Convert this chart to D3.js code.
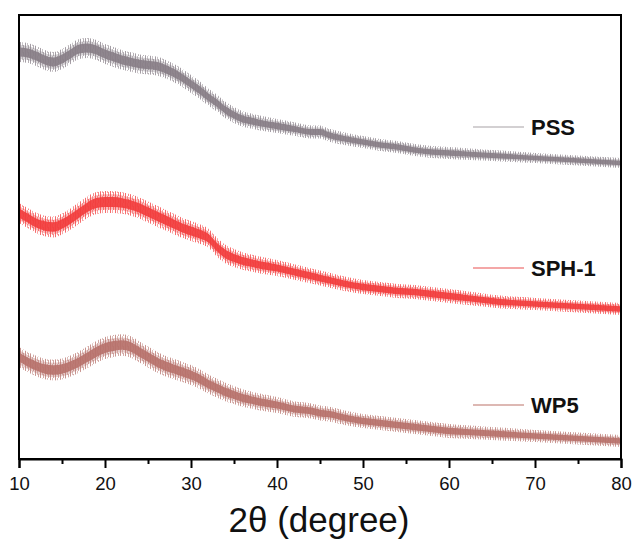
<!DOCTYPE html>
<html><head><meta charset="utf-8">
<script src="https://cdn.jsdelivr.net/npm/d3@7"></script>
<style>body{margin:0;background:#fff}svg{display:block}</style>
</head><body>
<script>
// 2θ sample positions (degree)
const twoTheta = [10,11,12,13,14,15,16,17,18,19,20,21,22,23,24,25,26,27,28,29,30,31,32,33,34,35,36,37,38,40,42,44,45,46,48,50,52,54,56,58,60,62,64,66,68,70,72,74,76,78,80];
// Intensities (a.u., stacked with offsets as in the figure)
const pss  = [407,406,403,399,397,400,405,410,411,409,405,402,399,397,395,394,393,390,386,381,375,369,362,356,349,344,340,338,336,333,330,327,327,324,320,317,314,312,309,307,306,305,304,303,302,301,300,299,298,297,296];
const sph1 = [246,241,236,233,232,235,240,246,252,256,257,257,256,254,251,247,243,239,235,231,228,225,221,212,205,201,198,196,194,191,187,183,181,179,175,172,170,168,167,165,163,161,159,157,156,155,154,153,152,151,150];
const wp5  = [102,97,93,90,89,90,93,97,102,107,111,113,114,112,107,102,97,93,90,87,84,80,75,71,67,64,61,59,57,54,50,48,46,45,41,38,36,34,32,30,28,27,26,25,24,23,22,21,20,19,18];
// noise band half-width (a.u.) at these 2θ
const noiseAt = [10,20,30,40,50,60,70,80];
const pssNoise  = [10,10,9,7,6,6,5,5];
const sph1Noise = [10,11,10,8,7,7,6,6];
const wp5Noise  = [10,11,10,8,7,7,6,6];
const seriesNames = ["PSS","SPH-1","WP5"];
const seriesColors = ["#877d86","#f23c3c","#b7716a"];
const legendColors = ["#c4c0c3","#f08a8a","#d2a09a"];
const xTicks = [10,20,30,40,50,60,70,80];
const xMinor = [15,25,35,45,55,65,75];

const W=636,H=541;
const m={l:19,r:621,t:15,b:459};
const svg=d3.select("body").append("svg").attr("width",W).attr("height",H);
const x=d3.scaleLinear().domain([10,80]).range([m.l,m.r]);
const y=d3.scaleLinear().domain([0,444]).range([m.b,m.t]);

const allSeries=[pss,sph1,wp5];
const allNoise=[pssNoise,sph1Noise,wp5Noise];
const noiseScale=d3.scaleLinear().domain(noiseAt);

const defs=svg.append("defs");
seriesColors.forEach((c,i)=>{
  const p=defs.append("pattern").attr("id","hair"+i).attr("patternUnits","userSpaceOnUse")
    .attr("width",5).attr("height",7);
  p.append("rect").attr("x",0).attr("y",0).attr("width",1).attr("height",7).attr("fill",c).attr("opacity",0.75);
  p.append("rect").attr("x",2).attr("y",0).attr("width",1).attr("height",4).attr("fill",c).attr("opacity",0.45);
  p.append("rect").attr("x",3).attr("y",3).attr("width",1).attr("height",4).attr("fill",c).attr("opacity",0.6);
});

const g=svg.append("g");
allSeries.forEach((vals,i)=>{
  const ns=noiseScale.copy().range(allNoise[i]);
  const pts=twoTheta.map((t,j)=>({t,v:vals[j],n:ns(t)}));
  const band=k=>d3.area().x(d=>x(d.t)).y0(d=>y(d.v-d.n*k)).y1(d=>y(d.v+d.n*k)).curve(d3.curveMonotoneX);
  g.append("path").attr("d",band(1)(pts)).attr("fill","url(#hair"+i+")");
  g.append("path").attr("d",band(0.7)(pts)).attr("fill",seriesColors[i]).attr("opacity",0.35);
  g.append("path").attr("d",band(0.45)(pts)).attr("fill",seriesColors[i]).attr("opacity",0.9);
});

// frame
svg.append("rect").attr("x",m.l).attr("y",m.t).attr("width",m.r-m.l).attr("height",m.b-m.t)
  .attr("fill","none").attr("stroke","#000").attr("stroke-width",2);

// x axis
const ax=svg.append("g").attr("transform",`translate(0,${m.b})`)
  .call(d3.axisBottom(x).tickValues(xTicks).tickSize(9).tickFormat(d3.format("d")));
ax.select(".domain").attr("stroke-width",2);
ax.selectAll(".tick line").attr("stroke-width",2);
ax.selectAll("text").attr("font-family","Liberation Sans, Arial, sans-serif").attr("font-size",18.5).attr("dy","1.0em").attr("fill","#111");
const axm=svg.append("g").attr("transform",`translate(0,${m.b})`)
  .call(d3.axisBottom(x).tickValues(xMinor).tickSize(5).tickFormat(""));
axm.select(".domain").remove();
axm.selectAll(".tick line").attr("stroke-width",2);

svg.append("text").attr("x",319).attr("y",532).attr("text-anchor","middle")
  .attr("font-family","Liberation Sans, Arial, sans-serif").attr("font-size",35).attr("fill","#111")
  .text("2θ (degree)");

// legends
const legendY=[127,268,405];
seriesNames.forEach((n,i)=>{
  svg.append("line").attr("x1",473).attr("x2",524).attr("y1",legendY[i]).attr("y2",legendY[i])
    .attr("stroke",legendColors[i]).attr("stroke-width",1.5);
  svg.append("text").attr("x",531).attr("y",legendY[i]+8).attr("font-family","Liberation Sans, Arial, sans-serif")
    .attr("font-weight","bold").attr("font-size",22).attr("fill","#111").text(n);
});
</script>
</body></html>
